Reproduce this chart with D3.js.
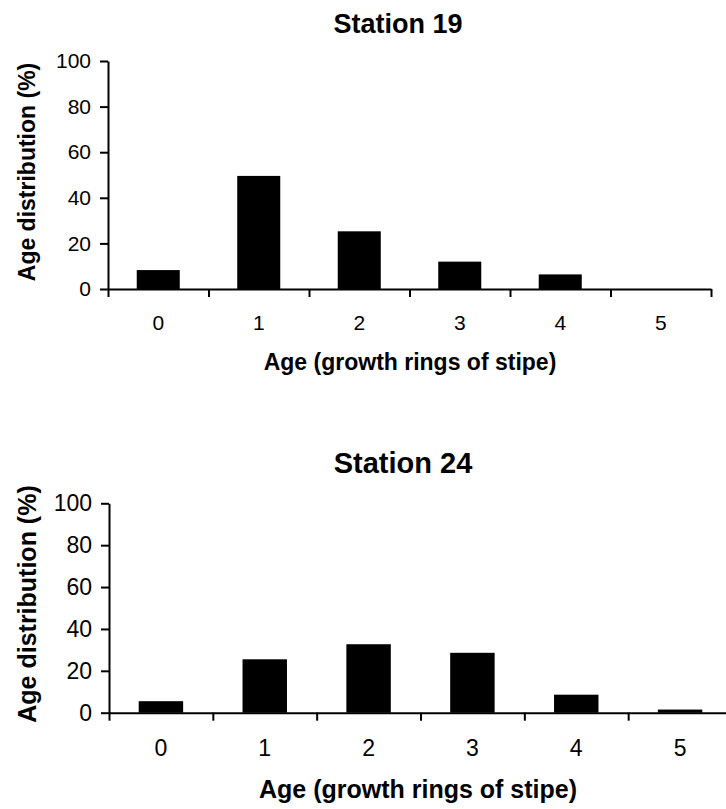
<!DOCTYPE html>
<html>
<head>
<meta charset="utf-8">
<script src="https://cdn.jsdelivr.net/npm/d3@7"></script>
<style>
  html, body { margin: 0; padding: 0; background: #fff; }
  svg { display: block; }
  text { font-family: "Liberation Sans", Arial, Helvetica, sans-serif; fill: #000; }
</style>
</head>
<body>
<script>
// ---- data ----
const ages = ["0", "1", "2", "3", "4", "5"];
const station19 = [8.3, 49.6, 25.3, 12, 6.4, 0];
const station24 = [5.5, 25.5, 32.7, 28.6, 8.6, 1.5];
const yTicks = [0, 20, 40, 60, 80, 100];
const titles = ["Station 19", "Station 24"];
const xTitle = "Age (growth rings of stipe)";
const yTitle = "Age distribution (%)";

const W = 726, H = 809;
const svg = d3.select("body").append("svg").attr("width", W).attr("height", H);

function panel(cfg, values, title) {
  const g = svg.append("g");
  const n = ages.length;
  const y = d3.scaleLinear().domain([0, 100]).range([cfg.y0, cfg.y1]);
  const xBand = d3.scaleBand().domain(ages).range([cfg.x0, cfg.x1])
    .paddingInner(0.572).paddingOuter(0.286);
  const xLab = d3.scaleBand().domain(ages).range([cfg.x0, cfg.x1]).padding(0);
  const xEdge = d3.scaleLinear().domain([0, n]).range([cfg.x0, cfg.x1]);

  // bars
  g.selectAll("rect.bar").data(values).join("rect")
    .attr("class", "bar")
    .attr("x", (d, i) => xBand(ages[i]))
    .attr("width", xBand.bandwidth())
    .attr("y", d => y(d))
    .attr("height", d => y(0) - y(d))
    .attr("fill", "#000");

  // y axis
  const ya = g.append("g").attr("transform", `translate(${cfg.x0},0)`)
    .call(d3.axisLeft(y).tickValues(yTicks).tickSize(8).tickSizeOuter(0).tickPadding(9));
  ya.select(".domain").attr("stroke-width", 2);
  ya.selectAll(".tick line").attr("stroke-width", 2);
  ya.selectAll(".tick text").attr("font-size", cfg.tickFs).style("font-family", "Liberation Sans, Arial, sans-serif");

  // x axis marks at band edges
  const xa = g.append("g").attr("transform", `translate(0,${cfg.y0})`)
    .call(d3.axisBottom(xEdge).tickValues(d3.range(n + 1)).tickFormat("").tickSize(8).tickSizeOuter(0));
  xa.select(".domain").attr("stroke-width", 2);
  xa.selectAll(".tick line").attr("stroke-width", 2);

  // x labels at band centres
  const xl = g.append("g").attr("transform", `translate(0,${cfg.y0})`)
    .call(d3.axisBottom(xLab).tickSize(0).tickPadding(cfg.xLabPad));
  xl.select(".domain").remove();
  xl.selectAll(".tick text").attr("font-size", cfg.tickFs).style("font-family", "Liberation Sans, Arial, sans-serif");

  // titles
  g.append("text").attr("x", cfg.titleX).attr("y", cfg.titleY)
    .attr("text-anchor", "middle").attr("font-weight", "bold").attr("font-size", cfg.titleFs)
    .text(title);
  g.append("text").attr("x", cfg.xTitleX).attr("y", cfg.xTitleY)
    .attr("text-anchor", "middle").attr("font-weight", "bold").attr("font-size", cfg.axFs)
    .text(xTitle);
  g.append("text")
    .attr("transform", `translate(${cfg.yTitleX},${cfg.yTitleY}) rotate(-90)`)
    .attr("text-anchor", "middle").attr("font-weight", "bold").attr("font-size", cfg.axFs)
    .text(yTitle);
}

panel({
  x0: 108, x1: 711, y0: 289, y1: 61,
  tickFs: 21, titleFs: 27, axFs: 23, xLabPad: 26,
  titleX: 398, titleY: 33, xTitleX: 410, xTitleY: 370,
  yTitleX: 35, yTitleY: 172
}, station19, titles[0]);

panel({
  x0: 109, x1: 732, y0: 712.7, y1: 503.3,
  tickFs: 23, titleFs: 29, axFs: 25, xLabPad: 27,
  titleX: 403, titleY: 473, xTitleX: 418, xTitleY: 798,
  yTitleX: 36, yTitleY: 604
}, station24, titles[1]);
</script>
</body>
</html>
